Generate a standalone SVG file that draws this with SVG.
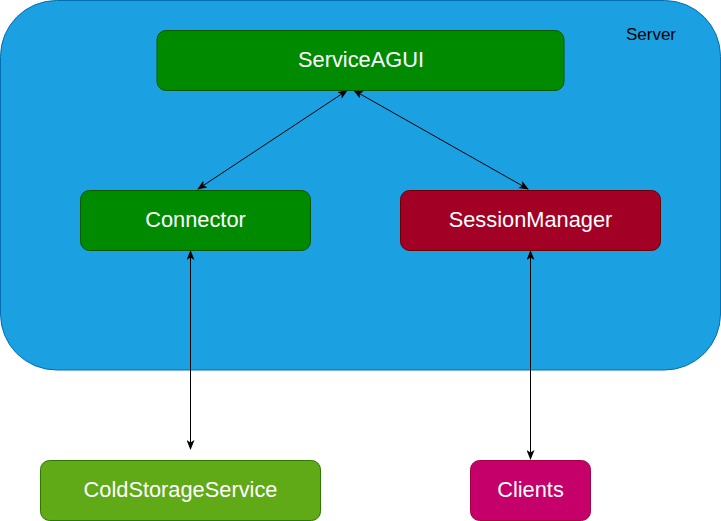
<svg xmlns="http://www.w3.org/2000/svg" width="721" height="521" viewBox="0 0 721 521">
<style>
.lbl{font-family:"Liberation Sans",Arial,sans-serif;font-size:21.8px;fill:#ffffff;text-anchor:middle;dominant-baseline:central}
.edge{stroke:#000000;stroke-width:1;fill:none}
</style>
<defs>
<marker id="ah" viewBox="0 0 10 8" refX="9" refY="4" markerWidth="10" markerHeight="8" markerUnits="userSpaceOnUse" orient="auto-start-reverse">
<path d="M0,0 L10,4 L0,8 L2.5,4 z" fill="#000000"/>
</marker>
</defs>
<rect width="721" height="521" fill="#ffffff"/>
<g id="server">
<rect x="0.5" y="0.5" width="720" height="369.5" rx="56" ry="56" fill="#1ba1e2" stroke="#006eaf"/>
<text x="651" y="34" style="font-family:'Liberation Sans',Arial,sans-serif;font-size:17px;fill:#000000;text-anchor:middle;dominant-baseline:central">Server</text>
</g>
<g id="connectors">
<line class="edge" x1="347" y1="90.5" x2="198" y2="189" marker-start="url(#ah)" marker-end="url(#ah)"/>
<line class="edge" x1="354" y1="90.5" x2="528" y2="189" marker-start="url(#ah)" marker-end="url(#ah)"/>
<line class="edge" x1="190.5" y1="251" x2="190.5" y2="449" marker-start="url(#ah)" marker-end="url(#ah)"/>
<line class="edge" x1="530.5" y1="251" x2="530.5" y2="459" marker-start="url(#ah)" marker-end="url(#ah)"/>
</g>
<g id="serviceagui">
<rect x="157" y="30.5" width="407" height="60" rx="9" fill="#008a00" stroke="#005700"/>
<text class="lbl" x="361" y="59">ServiceAGUI</text>
</g>
<g id="connector">
<rect x="80.5" y="190.5" width="230" height="60" rx="9" fill="#008a00" stroke="#005700"/>
<text class="lbl" x="195.5" y="219">Connector</text>
</g>
<g id="sessionmanager">
<rect x="400.5" y="190.5" width="260" height="60" rx="9" fill="#a20025" stroke="#6f0000"/>
<text class="lbl" x="530.5" y="219">SessionManager</text>
</g>
<g id="coldstorageservice">
<rect x="40.5" y="460.5" width="280" height="60" rx="9" fill="#60a917" stroke="#2d7600"/>
<text class="lbl" x="180.5" y="489">ColdStorageService</text>
</g>
<g id="clients">
<rect x="470.5" y="460.5" width="120" height="60" rx="9" fill="#c5006a" stroke="#a50040"/>
<text class="lbl" x="530.5" y="489">Clients</text>
</g>
</svg>
